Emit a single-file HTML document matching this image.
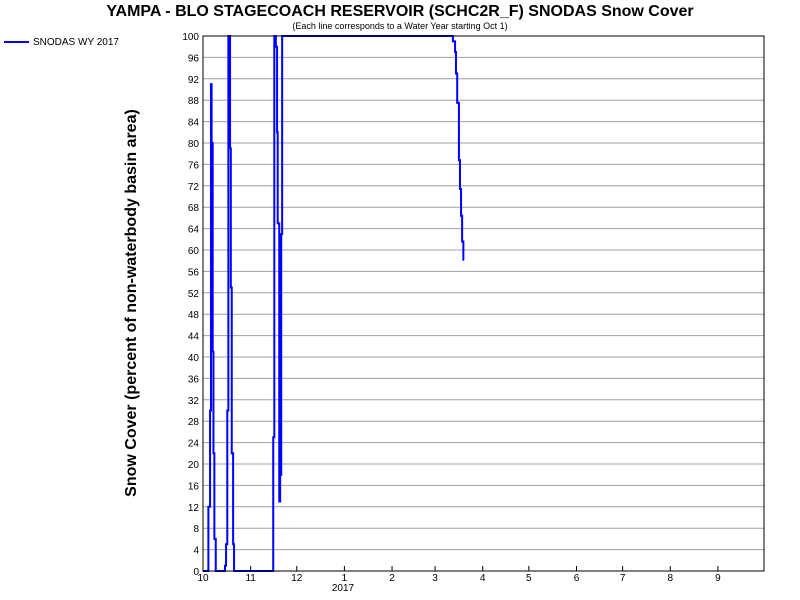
<!DOCTYPE html>
<html><head><meta charset="utf-8"><style>
body{margin:0;background:#fff;}
svg{display:block;font-family:"Liberation Sans",sans-serif;}
</style></head><body>
<svg id="chart" width="800" height="600" viewBox="0 0 800 600">
<rect width="800" height="600" fill="#fff"/>
<text x="400" y="16" text-anchor="middle" font-size="16" font-weight="bold">YAMPA - BLO STAGECOACH RESERVOIR (SCHC2R_F) SNODAS Snow Cover</text>
<text x="400" y="29" text-anchor="middle" font-size="9">(Each line corresponds to a Water Year starting Oct 1)</text>
<g>
<line x1="4" y1="42" x2="29" y2="42" stroke="#0000ff" stroke-width="2"/>
<text x="33" y="45" font-size="10">SNODAS WY 2017</text>
</g>
<text transform="translate(136,303) rotate(-90)" text-anchor="middle" font-size="16" font-weight="bold">Snow Cover (percent of non-waterbody basin area)</text>
<g id="grid"></g><g id="yt"></g><g id="xt"></g>
<text x="343" y="591" text-anchor="middle" font-size="10">2017</text>
<path id="series" fill="none" stroke="#0000ff" stroke-width="2"/>
<rect x="203" y="36" width="561" height="535" fill="none" stroke="#000" stroke-width="1"/>
</svg>
<script>
const days = [0,3.5,4.6,5.2,5.6,6.3,6.8,7.4,8.3,14.3,15,15.8,16.5,17.6,18.1,18.7,19.2,19.6,20.2,45.7,46.4,47.4,48.2,48.6,49.6,50.2,50.9,51.5,52.2,162.6,164,164.6,165.4,166.5,167.2,167.9,168.6,169.4];
const values = [0,12,30,91,80,41,22,6,0,1,5,30,100,79,53,22,22,5,0,25,100,98,82,65,13,18,63,100,100,99,97,93,87.5,76.8,71.4,66.4,61.6,58.2];
const endDay = 169.9;
const yTicks = [0,4,8,12,16,20,24,28,32,36,40,44,48,52,56,60,64,68,72,76,80,84,88,92,96,100];
const monthLabels = ["10","11","12","1","2","3","4","5","6","7","8","9"];
const monthDays = [0,31,61,92,123,151,182,212,243,273,304,335];
const X0=203,X1=764,Y0=571,Y1=36;
const xs = d => X0 + d*(X1-X0)/365;
const ys = v => Y0 - v*(Y0-Y1)/100;
const NS="http://www.w3.org/2000/svg";
const grid=document.getElementById('grid'), yt=document.getElementById('yt'), xt=document.getElementById('xt');
yTicks.forEach(v=>{
  const l=document.createElementNS(NS,'line');
  l.setAttribute('x1',X0);l.setAttribute('x2',X1);l.setAttribute('y1',ys(v));l.setAttribute('y2',ys(v));
  l.setAttribute('stroke','#a0a0a0');l.setAttribute('stroke-width','1');
  
  
  grid.appendChild(l);
  const t=document.createElementNS(NS,'text');
  t.setAttribute('x',199);t.setAttribute('y',ys(v)+4);t.setAttribute('text-anchor','end');t.setAttribute('font-size','10');
  t.textContent=v;
  
  
  yt.appendChild(t);
});
monthDays.forEach((d,i)=>{
  const l=document.createElementNS(NS,'line');
  l.setAttribute('x1',xs(d));l.setAttribute('x2',xs(d));l.setAttribute('y1',Y0);l.setAttribute('y2',Y0-5);
  l.setAttribute('stroke','#000');
  
  
  xt.appendChild(l);
  const t=document.createElementNS(NS,'text');
  t.setAttribute('x',xs(d));t.setAttribute('y',581);t.setAttribute('text-anchor','middle');t.setAttribute('font-size','10');
  t.textContent=monthLabels[i];
  
  
  xt.appendChild(t);
});
let dstr='M'+xs(days[0])+','+ys(values[0]);
for(let i=1;i<days.length;i++){
  dstr+=' L'+xs(days[i])+','+ys(values[i-1])+' L'+xs(days[i])+','+ys(values[i]);
}
dstr+=' L'+xs(endDay)+','+ys(values[values.length-1]);
document.getElementById('series').setAttribute('d',dstr);
</script>
</body></html>
